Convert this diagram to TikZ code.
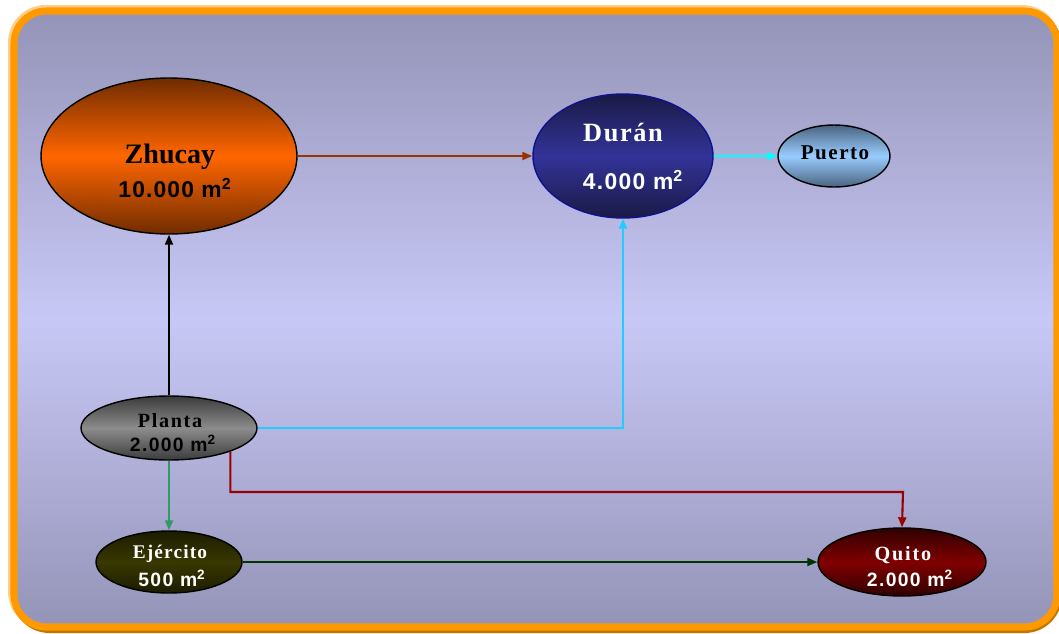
\documentclass[tikz,border=0pt]{standalone}
\usepackage{fontspec}
\setmainfont{Liberation Serif}
\newfontfamily\areafont{Liberation Sans}
\usetikzlibrary{arrows.meta}
\usetikzlibrary{shapes.geometric}

\definecolor{frameorange}{HTML}{FF9900}
\definecolor{framelight}{HTML}{FFCF8A}
\definecolor{frameshadow}{HTML}{C87400}
\definecolor{bgedge}{HTML}{9494B8}
\definecolor{bgmid}{HTML}{C8C8F6}
\definecolor{zhucaymid}{HTML}{FF6600}
\definecolor{zhucayedge}{HTML}{702C00}
\definecolor{duranmid}{HTML}{333399}
\definecolor{duranedge}{HTML}{1A1A46}
\definecolor{puertomid}{HTML}{99CCFF}
\definecolor{puertoedge}{HTML}{4A6480}
\definecolor{plantamid}{HTML}{8C8C8C}
\definecolor{plantaedge}{HTML}{3C3C3C}
\definecolor{ejercitomid}{HTML}{383800}
\definecolor{ejercitoedge}{HTML}{1C1C00}
\definecolor{quitomid}{HTML}{800000}
\definecolor{quitoedge}{HTML}{300000}
\definecolor{linkbrown}{HTML}{993300}
\definecolor{linkcyan}{HTML}{00FFFF}
\definecolor{linksky}{HTML}{22CCFF}
\definecolor{linkgreen}{HTML}{339966}
\definecolor{linkred}{HTML}{990000}
\definecolor{linkdarkgreen}{HTML}{003300}

\begin{document}
\begin{tikzpicture}[x=0.02cm,y=-0.02cm,>={Triangle[length=2mm,width=1.6mm]},
	site/.style={ellipse,draw=black,line width=0.8pt,inner sep=0pt},
	link/.style={->,line width=1.2pt},
	sitename/.style={font=\fontsize{#1}{#1}\selectfont\bfseries},
	sitearea/.style={font=\fontsize{#1}{#1}\selectfont\areafont\bfseries}]
	\useasboundingbox (0,0) rectangle (1059,633);

	% frame
	\fill[framelight,rounded corners=0.75cm] (8,5) rectangle (1060,629);
	\fill[frameshadow,rounded corners=0.75cm] (12,9) rectangle (1062,633);
	\draw[
		draw=frameorange,
		line width=4pt,
		rounded corners=0.65cm,
		top color=bgedge,
		bottom color=bgedge,
		middle color=bgmid
	]
	(14,11) rectangle (1057,627);

	% sites
	\node[site,minimum width=5.12cm,minimum height=3.12cm,
		top color=zhucayedge,bottom color=zhucayedge,middle color=zhucaymid] (zhucay) at (169,156) {};
	\node[site,draw=duranedge!60!blue,minimum width=3.6cm,minimum height=2.48cm,
		top color=duranedge,bottom color=duranedge,middle color=duranmid] (duran) at (623,156) {};
	\node[site,minimum width=2.24cm,minimum height=1.24cm,
		top color=puertoedge,bottom color=puertoedge,middle color=puertomid] (puerto) at (834,156) {};
	\node[site,minimum width=3.52cm,minimum height=1.28cm,
		top color=plantaedge,bottom color=plantaedge,middle color=plantamid] (planta) at (169,428) {};
	\node[site,minimum width=2.92cm,minimum height=1.24cm,
		top color=ejercitoedge,bottom color=ejercitoedge,middle color=ejercitomid] (ejercito) at (169,562) {};
	\node[site,minimum width=3.36cm,minimum height=1.36cm,
		top color=quitoedge,bottom color=quitoedge,middle color=quitomid] (quito) at (902,562) {};

	% texts
	\node[sitename=16] (zhucayname) at (170,157) {Zhucay};
	\node[sitearea=13] (zhucayarea) at (175,188) {\addfontfeature{LetterSpace=5}10.000 m\textsuperscript{2}};
	\node[sitename=15,white] (duranname) at (623,132) {\addfontfeature{LetterSpace=6}Durán};
	\node[sitearea=13,white] (duranarea) at (633,180) {\addfontfeature{LetterSpace=6}4.000 m\textsuperscript{2}};
	\node[sitename=12] (puertoname) at (835,153) {\addfontfeature{LetterSpace=7}Puerto};
	\node[sitename=11.5] (plantaname) at (170,421) {\addfontfeature{LetterSpace=8}Planta};
	\node[sitearea=11] (plantaarea) at (173,443) {\addfontfeature{LetterSpace=7}2.000 m\textsuperscript{2}};
	\node[sitename=11,white] (ejercitoname) at (170,554) {\addfontfeature{LetterSpace=6}Ejército};
	\node[sitearea=11,white] (ejercitoarea) at (172,578) {\addfontfeature{LetterSpace=7}500 m\textsuperscript{2}};
	\node[sitename=11.5,white] (quitoname) at (903,555) {\addfontfeature{LetterSpace=9}Quito};
	\node[sitearea=11,white] (quitoarea) at (910,578) {\addfontfeature{LetterSpace=7}2.000 m\textsuperscript{2}};

	% links
	\coordinate (quitobend) at (903,492);
	\draw[link,linkbrown] (zhucay.east) -- (duran.west);
	\draw[link,linkcyan] (duran.east) -- (puerto.west);
	\draw[link,black] (planta.north) -- (zhucay.south);
	\draw[link,linksky] (planta.east) -| (duran.south);
	\draw[link,linkgreen] (planta.south) -- (ejercito.north);
	\draw[link,linkred] (planta.-21) |- (quitobend) -- (quito.north);
	\draw[link,linkdarkgreen] (ejercito.east) -- (quito.west);
\end{tikzpicture}
\end{document}
